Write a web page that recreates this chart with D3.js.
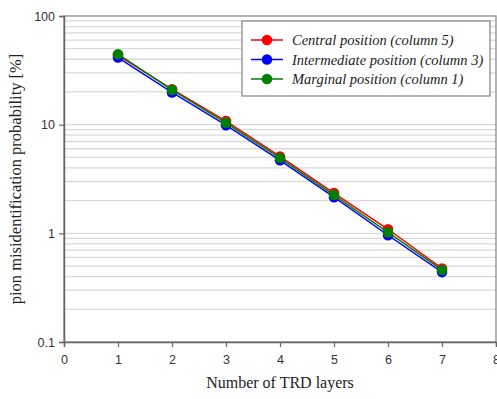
<!DOCTYPE html>
<html><head><meta charset="utf-8">
<script src="https://cdn.jsdelivr.net/npm/d3@7"></script>
<style>body{margin:0;background:#fff}svg{display:block}</style>
</head><body>
<script>
const layers = [1,2,3,4,5,6,7];
const central = [43.5, 21.2, 10.8, 5.1, 2.35, 1.09, 0.475];
const intermediate = [41.5, 19.8, 9.9, 4.7, 2.15, 0.96, 0.44];
const marginal = [44.5, 20.9, 10.4, 4.93, 2.25, 1.02, 0.46];
const seriesNames = ["Central position (column 5)","Intermediate position (column 3)","Marginal position (column 1)"];
const seriesColors = ["#ff0000","#0000ff","#008000"];
const xTicks = [0,1,2,3,4,5,6,7,8];
const yTicks = [0.1,1,10,100];
const xTitle = "Number of TRD layers";
const yTitle = "pion misidentification probability [%]";

const W=497,H=399;
const m={l:64,r:1,t:16,b:57};
const svg=d3.select("body").append("svg").attr("width",W).attr("height",H);
const x=d3.scaleLinear().domain([0,8]).range([m.l,W-m.r]);
const y=d3.scaleLog().domain([0.1,100]).range([H-m.b,m.t]);

// grid lines (minor + major)
const gridVals=[];
[0.1,1,10].forEach(d=>{for(let k=1;k<=9;k++){const v=d*k; if(v>0.1) gridVals.push(v);} });
svg.append("g").selectAll("line").data(gridVals.filter(v=>v<100)).join("line")
  .attr("x1",x(0)).attr("x2",x(8)).attr("y1",d=>y(d)).attr("y2",d=>y(d))
  .attr("stroke","#d9d9d9").attr("stroke-width",1.3);

// frame
svg.append("rect").attr("x",x(0)).attr("y",y(100)).attr("width",x(8)-x(0)).attr("height",y(0.1)-y(100))
  .attr("fill","none").attr("stroke","#808080").attr("stroke-width",1.2);

// axes
const xa=svg.append("g").attr("transform",`translate(0,${y(0.1)})`)
  .call(d3.axisBottom(x).tickValues(xTicks).tickFormat(d3.format("d")).tickSize(5).tickPadding(8));
const ya=svg.append("g").attr("transform",`translate(${x(0)},0)`)
  .call(d3.axisLeft(y).tickValues(yTicks).tickFormat(d=>String(d)).tickSize(5).tickPadding(4));
[xa,ya].forEach(a=>{
  a.select(".domain").attr("stroke","#666").attr("stroke-width",1.5);
  a.selectAll(".tick line").attr("stroke","#666").attr("stroke-width",1.2);
  a.selectAll("text").attr("font-family","Liberation Sans, Arial, sans-serif").attr("font-size",12.5).attr("fill","#333");
});

// series
const all=[central,intermediate,marginal];
const line=d3.line().x((d,i)=>x(layers[i])).y(d=>y(d));
all.forEach((s,si)=>{
  const g=svg.append("g");
  g.append("path").datum(s).attr("d",line).attr("fill","none").attr("stroke",seriesColors[si]).attr("stroke-width",1.5);
  g.selectAll("circle").data(s).join("circle").attr("cx",(d,i)=>x(layers[i])).attr("cy",d=>y(d)).attr("r",5.3).attr("fill",seriesColors[si]);
});

// legend
const lg=svg.append("g");
lg.append("rect").attr("x",242).attr("y",21).attr("width",248).attr("height",75).attr("fill","#fff").attr("stroke","#808080").attr("stroke-width",1.2);
seriesNames.forEach((n,i)=>{
  const yy=40+i*19.5;
  lg.append("line").attr("x1",251).attr("x2",283).attr("y1",yy).attr("y2",yy).attr("stroke",seriesColors[i]).attr("stroke-width",1.5);
  lg.append("circle").attr("cx",267).attr("cy",yy).attr("r",5.3).attr("fill",seriesColors[i]);
  lg.append("text").attr("x",292).attr("y",yy+5).text(n).attr("font-family","Liberation Serif, Times New Roman, serif")
    .attr("font-style","italic").attr("font-size",14.5).attr("fill","#222");
});

// titles
svg.append("text").attr("x",280).attr("y",388).attr("text-anchor","middle").text(xTitle)
  .attr("font-family","Liberation Serif, Times New Roman, serif").attr("font-size",16).attr("fill","#222");
svg.append("text").attr("transform",`translate(21,${(y(0.1)+y(100))/2}) rotate(-90)`).attr("text-anchor","middle").text(yTitle)
  .attr("font-family","Liberation Serif, Times New Roman, serif").attr("font-size",16.5).attr("fill","#222");
</script>
</body></html>
